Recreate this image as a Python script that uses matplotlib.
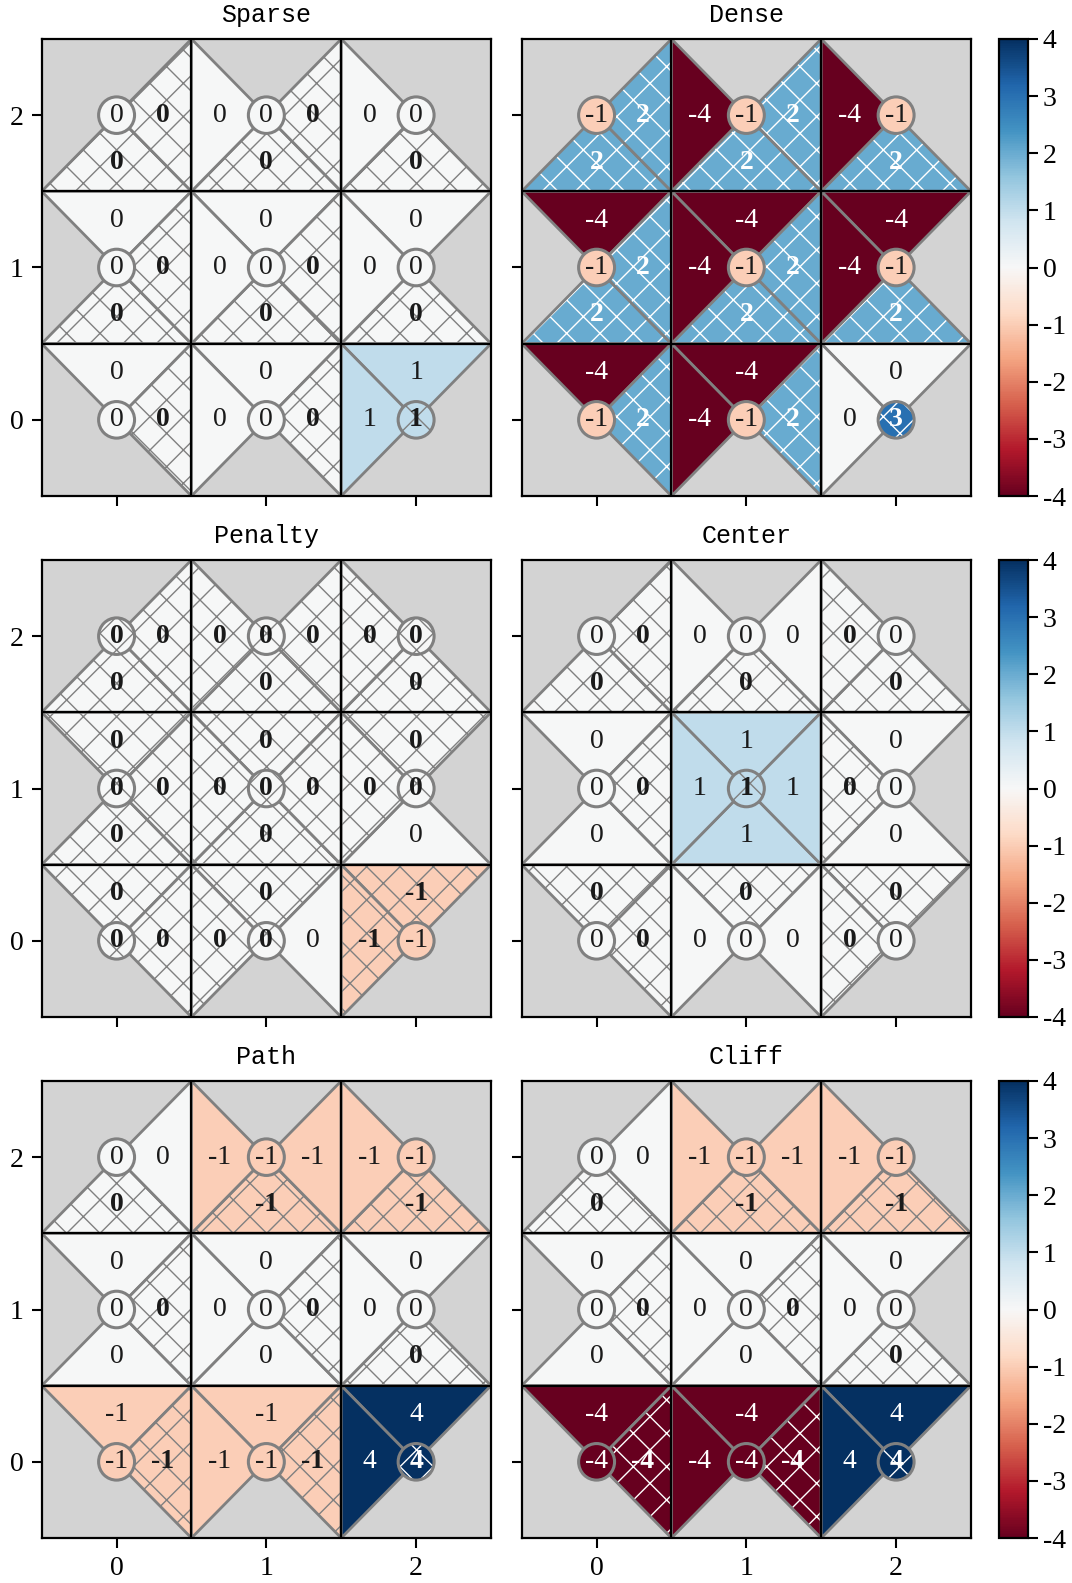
import matplotlib
matplotlib.use("Agg")
import matplotlib.pyplot as plt
from matplotlib.patches import Polygon, Circle
from matplotlib.colors import Normalize
from matplotlib.cm import ScalarMappable

plt.rcParams['font.family'] = ['Liberation Serif', 'DejaVu Serif']
plt.rcParams['axes.unicode_minus'] = False
plt.rcParams['hatch.linewidth'] = 1.0

N = None
# per cell: (up, down, left, right, stay); rows are y=2, y=1, y=0
SPARSE_Q = [[(N, 0, N, 0, 0), (N, 0, 0, 0, 0), (N, 0, 0, N, 0)],
            [(0, 0, N, 0, 0), (0, 0, 0, 0, 0), (0, 0, 0, N, 0)],
            [(0, N, N, 0, 0), (0, N, 0, 0, 0), (1, N, 1, N, 1)]]
SPARSE_BEST = [["DR", "DR", "D"], ["DR", "DR", "D"], ["R", "R", "S"]]

DENSE_Q = [[(N, 2, N, 2, -1), (N, 2, -4, 2, -1), (N, 2, -4, N, -1)],
           [(-4, 2, N, 2, -1), (-4, 2, -4, 2, -1), (-4, 2, -4, N, -1)],
           [(-4, N, N, 2, -1), (-4, N, -4, 2, -1), (0, N, 0, N, 3)]]
DENSE_BEST = [["DR", "DR", "D"], ["DR", "DR", "D"], ["R", "R", "S"]]

PENALTY_Q = [[(N, 0, N, 0, 0), (N, 0, 0, 0, 0), (N, 0, 0, N, 0)],
             [(0, 0, N, 0, 0), (0, 0, 0, 0, 0), (0, 0, 0, N, 0)],
             [(0, N, N, 0, 0), (0, N, 0, 0, 0), (-1, N, -1, N, -1)]]
PENALTY_BEST = [["DRS", "DLRS", "DLS"], ["UDRS", "UDLRS", "ULS"], ["URS", "ULS", "UL"]]

CENTER_Q = [[(N, 0, N, 0, 0), (N, 0, 0, 0, 0), (N, 0, 0, N, 0)],
            [(0, 0, N, 0, 0), (1, 1, 1, 1, 1), (0, 0, 0, N, 0)],
            [(0, N, N, 0, 0), (0, N, 0, 0, 0), (0, N, 0, N, 0)]]
CENTER_BEST = [["DR", "D", "DL"], ["R", "S", "L"], ["UR", "U", "UL"]]

PATH_Q = [[(N, 0, N, 0, 0), (N, -1, -1, -1, -1), (N, -1, -1, N, -1)],
          [(0, 0, N, 0, 0), (0, 0, 0, 0, 0), (0, 0, 0, N, 0)],
          [(-1, N, N, -1, -1), (-1, N, -1, -1, -1), (4, N, 4, N, 4)]]
PATH_BEST = [["D", "D", "D"], ["R", "R", "D"], ["R", "R", "S"]]

CLIFF_Q = [[(N, 0, N, 0, 0), (N, -1, -1, -1, -1), (N, -1, -1, N, -1)],
           [(0, 0, N, 0, 0), (0, 0, 0, 0, 0), (0, 0, 0, N, 0)],
           [(-4, N, N, -4, -4), (-4, N, -4, -4, -4), (4, N, 4, N, 4)]]
CLIFF_BEST = [["D", "D", "D"], ["R", "R", "D"], ["R", "R", "S"]]

TITLES = ["Sparse", "Dense", "Penalty", "Center", "Path", "Cliff"]
PANELS = [(SPARSE_Q, SPARSE_BEST), (DENSE_Q, DENSE_BEST),
          (PENALTY_Q, PENALTY_BEST), (CENTER_Q, CENTER_BEST),
          (PATH_Q, PATH_BEST), (CLIFF_Q, CLIFF_BEST)]
CBAR_TICKS = [-4, -3, -2, -1, 0, 1, 2, 3, 4]

cmap = plt.get_cmap('RdBu')
norm = Normalize(vmin=-4, vmax=4)
EDGE = '#808080'
OFF = 0.31
RAD = 0.12


def tri_verts(cx, cy, k):
    h = 0.5
    if k == 0:   # up
        return [(cx - h, cy + h), (cx + h, cy + h), (cx, cy)]
    if k == 1:   # down
        return [(cx - h, cy - h), (cx + h, cy - h), (cx, cy)]
    if k == 2:   # left
        return [(cx - h, cy - h), (cx - h, cy + h), (cx, cy)]
    return [(cx + h, cy - h), (cx + h, cy + h), (cx, cy)]


TEXT_OFF = [(0, OFF), (0, -OFF), (-OFF, 0), (OFF, 0), (0, 0)]


def add_shape(ax, make, v, best, lw):
    col = cmap(norm(v))
    dark = abs(v) >= 2
    ax.add_patch(make(fc=col, ec='none', lw=0))
    if best:
        ax.add_patch(make(fc='none', ec='white' if dark else EDGE, lw=0, hatch='x'))
    ax.add_patch(make(fc='none', ec=EDGE, lw=lw))


def draw_panel(ax, q, best):
    ax.set_facecolor('#d3d3d3')
    for r in range(3):
        cy = 2 - r
        for cx in range(3):
            vals = q[r][cx]
            b = best[r][cx]
            for k in range(4):
                v = vals[k]
                if v is None:
                    continue
                vs = tri_verts(cx, cy, k)
                add_shape(ax, lambda **kw: Polygon(vs, closed=True, **kw), v,
                          "UDLR"[k] in b, 2.0)
            add_shape(ax, lambda **kw: Circle((cx, cy), RAD, **kw), vals[4],
                      "S" in b, 2.2)
            for k in range(5):
                v = vals[k]
                if v is None:
                    continue
                bold = "UDLRS"[k] in b
                dx, dy = TEXT_OFF[k]
                ax.text(cx + dx, cy + dy, str(v), ha='center', va='center',
                        fontsize=20, color='white' if abs(v) >= 2 else '#1a1a1a',
                        fontweight='bold' if bold else 'normal', zorder=5)
    for p in (0.5, 1.5):
        ax.axvline(p, color='black', lw=1.6, zorder=4)
        ax.axhline(p, color='black', lw=1.6, zorder=4)
    ax.set_xlim(-0.5, 2.5)
    ax.set_ylim(-0.5, 2.5)
    ax.set_xticks([0, 1, 2])
    ax.set_yticks([0, 1, 2])
    ax.tick_params(direction='out', length=7, width=1.5, labelsize=20, pad=6)
    for s in ax.spines.values():
        s.set_linewidth(1.6)


fig = plt.figure(figsize=(10.72, 15.83), dpi=100)
W, H = 1072.0, 1583.0
col_x = [41.7, 521.7]
ax_w = 449.3
row_top = [39, 560, 1081]
ax_h = 457

for i, (title, (q, best)) in enumerate(zip(TITLES, PANELS)):
    r, c = divmod(i, 2)
    ax = fig.add_axes([col_x[c] / W, 1 - (row_top[r] + ax_h) / H, ax_w / W, ax_h / H])
    draw_panel(ax, q, best)
    ax.set_title(title, fontsize=18, family=['Liberation Mono', 'DejaVu Sans Mono'], pad=12)
    if c == 1:
        ax.set_yticklabels([])
    if r < 2:
        ax.set_xticklabels([])
    if c == 1:
        cax = fig.add_axes([999 / W, 1 - (row_top[r] + ax_h) / H, 28.5 / W, ax_h / H])
        sm = ScalarMappable(norm=norm, cmap=cmap)
        cb = fig.colorbar(sm, cax=cax, ticks=CBAR_TICKS)
        cb.outline.set_linewidth(1.6)
        cax.tick_params(direction='out', length=7, width=1.5, labelsize=20, pad=4)

fig.savefig('out.png', dpi=100)
